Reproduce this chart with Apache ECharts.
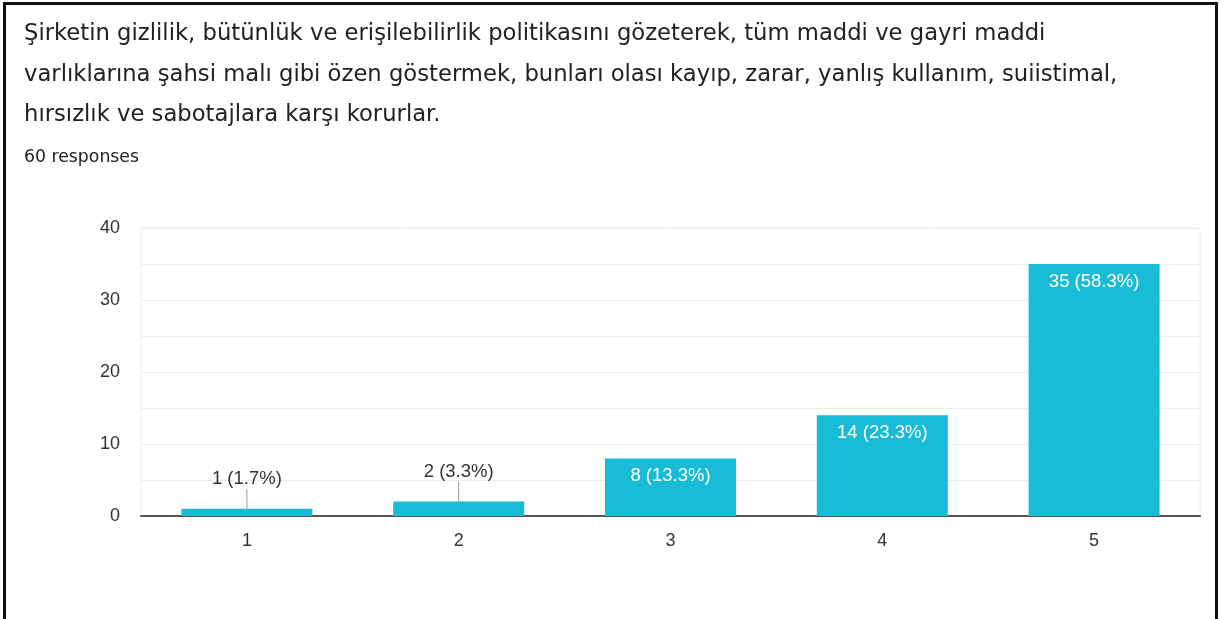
<!DOCTYPE html>
<html>
<head>
<meta charset="utf-8">
<script src="https://cdn.jsdelivr.net/npm/echarts@6/dist/echarts.min.js"></script>
<style>
  html, body { margin: 0; padding: 0; background: #fff; width: 1224px; height: 619px; overflow: hidden; }
  #frame { position: absolute; left: 3px; top: 2px; width: 1209px; height: 640px;
           border-left: 3px solid #111; border-top: 3px solid #111; border-right: 3px solid #111; }
  #chart { position: absolute; left: 0; top: 0; width: 1224px; height: 619px; }
</style>
</head>
<body>
<div id="frame"></div>
<div id="chart"></div>
<script>
// Survey question and response counts per rating
const question = 'Şirketin gizlilik, bütünlük ve erişilebilirlik politikasını gözeterek, tüm maddi ve gayri maddi\n' +
  'varlıklarına şahsi malı gibi özen göstermek, bunları olası kayıp, zarar, yanlış kullanım, suiistimal,\n' +
  'hırsızlık ve sabotajlara karşı korurlar.';
const responsesLabel = '60 responses';
const categories = ['1', '2', '3', '4', '5'];
const counts = [1, 2, 8, 14, 35];
const yTicks = [0, 10, 20, 30, 40];

const total = counts.reduce((a, b) => a + b, 0);
const SMALL = 4; // bars shorter than this get their label above with a leader line
const FONT = '"Liberation Sans", Arial, sans-serif';

const chart = echarts.init(document.getElementById('chart'), null, { renderer: 'canvas' });

const barData = counts.map((v) => {
  const small = v < SMALL;
  return {
    value: v,
    label: small
      ? { position: 'top', distance: 4, color: '#333' }
      : { position: 'insideTop', distance: 8, color: '#fff' }
  };
});

chart.setOption({
  animation: false,
  title: [
    {
      text: question,
      left: 24, top: 14, padding: 0,
      textStyle: { fontFamily: 'DejaVu Sans', fontWeight: 'normal', fontSize: 22.7, lineHeight: 40.5, color: '#202124' }
    },
    {
      text: responsesLabel,
      left: 24, top: 149, padding: 0,
      textStyle: { fontFamily: 'DejaVu Sans', fontWeight: 'normal', fontSize: 17.3, color: '#202124' }
    }
  ],
  grid: {
    left: 141, right: 24, top: 228, bottom: 103,
    show: true, borderColor: '#eeeeee', borderWidth: 1, containLabel: false
  },
  xAxis: {
    type: 'category',
    data: categories,
    axisLine: { lineStyle: { color: '#555', width: 2 } },
    axisTick: { show: false },
    axisLabel: { color: '#333', fontSize: 18, margin: 16, fontFamily: FONT }
  },
  yAxis: {
    type: 'value',
    min: yTicks[0], max: yTicks[yTicks.length - 1], interval: 5,
    axisLine: { show: false },
    axisTick: { show: false },
    splitLine: { lineStyle: { color: '#ececec', width: 1 } },
    axisLabel: {
      color: '#333', fontSize: 18, margin: 21, fontFamily: FONT,
      formatter: (v) => (yTicks.indexOf(v) >= 0 ? String(v) : '')
    }
  },
  series: [{
    type: 'bar',
    data: barData,
    barWidth: 131,
    itemStyle: { color: '#18bcd6' },
    label: {
      show: true,
      fontSize: 18.5,
      fontFamily: FONT,
      formatter: (p) => p.value + ' (' + (p.value / total * 100).toFixed(1) + '%)'
    },
    labelLine: { show: true, lineStyle: { color: '#999', width: 1 } },
    labelLayout: (p) => (counts[p.dataIndex] < SMALL ? { dy: -16 } : {})
  }]
});
</script>
</body>
</html>
